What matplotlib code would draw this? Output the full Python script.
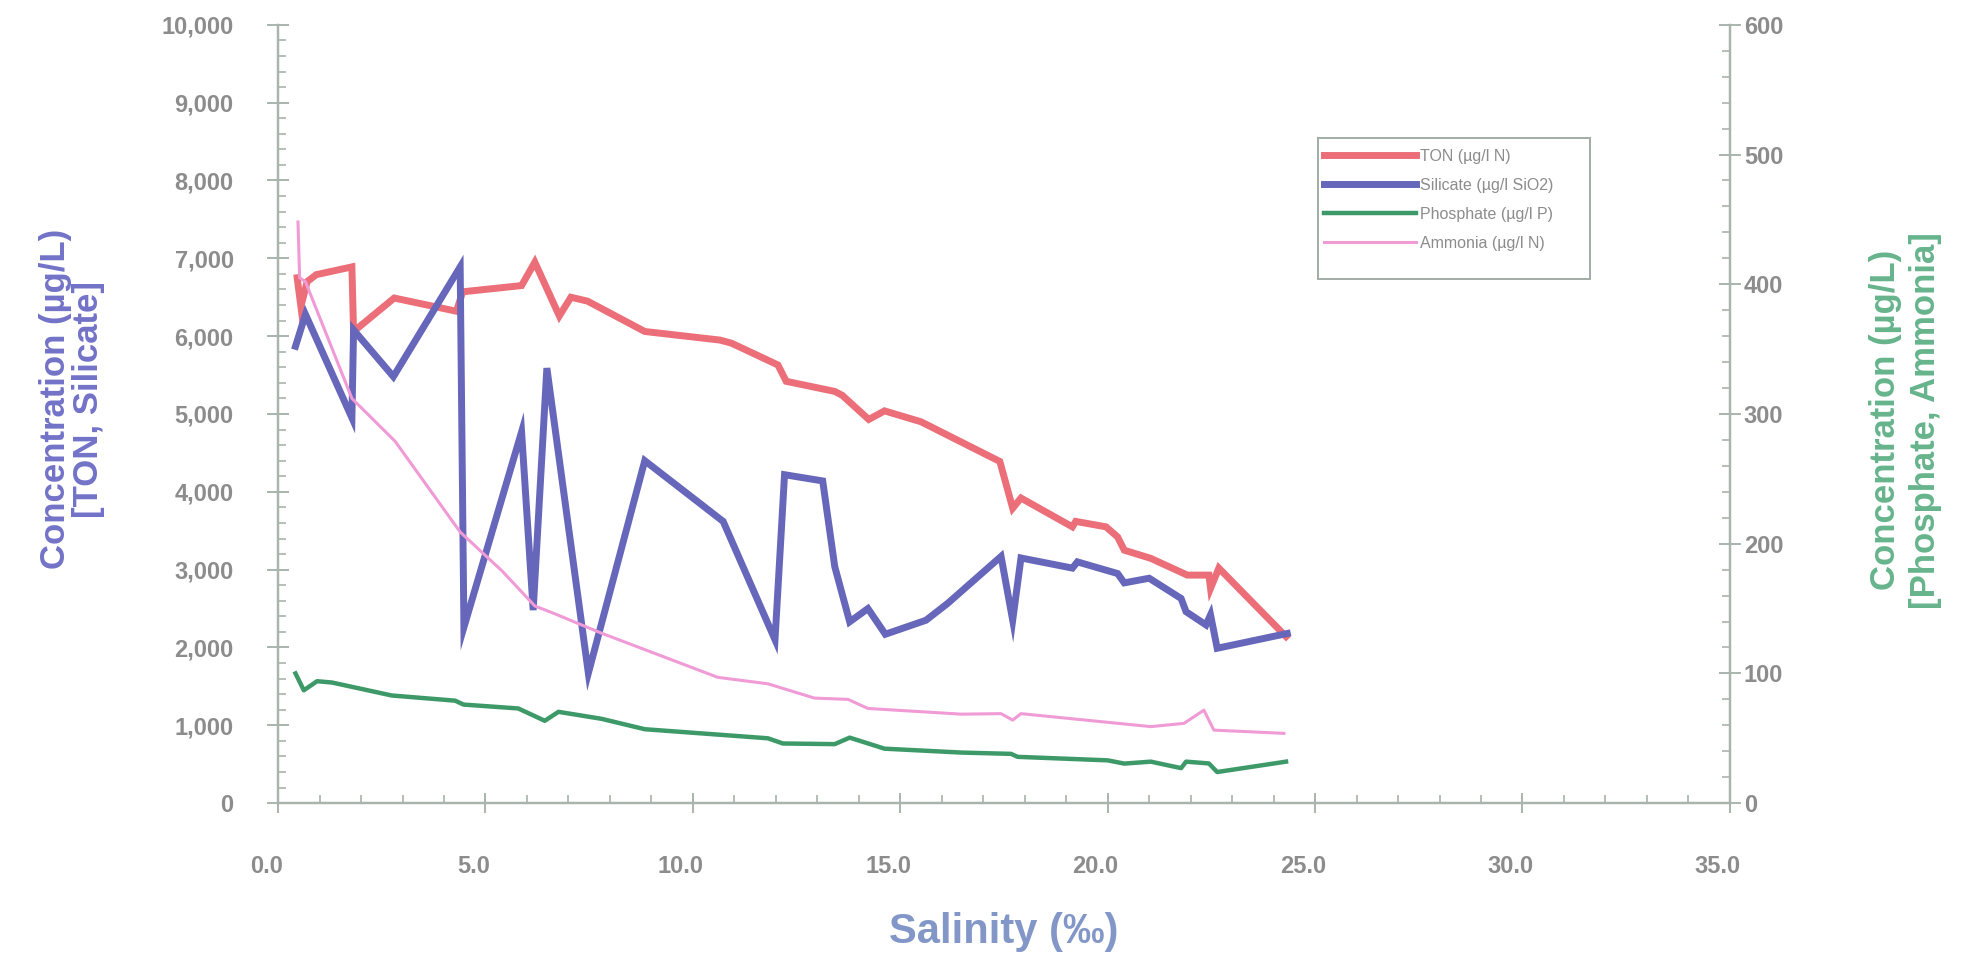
import matplotlib
matplotlib.use("Agg")
import matplotlib.pyplot as plt
from matplotlib.ticker import MultipleLocator, FuncFormatter
from matplotlib.lines import Line2D
from matplotlib.patches import Rectangle
from matplotlib.transforms import ScaledTranslation

# ---------------- data ----------------
ton_sal = [0.46, 0.55, 0.70, 0.92, 1.78, 1.82, 2.80, 4.30, 4.45, 5.87, 6.19, 6.78,
           7.06, 7.46, 8.84, 10.65, 10.93, 12.05, 12.25, 13.42, 13.60, 14.24, 14.62,
           15.50, 17.40, 17.71, 17.91, 19.15, 19.23, 19.96, 20.24, 20.40, 21.04,
           21.92, 22.44, 22.48, 22.68, 24.30]
ton_val = [6750, 6380, 6700, 6790, 6890, 6060, 6490, 6320, 6570, 6650, 6950, 6260,
           6500, 6450, 6060, 5950, 5910, 5630, 5420, 5290, 5240, 4930, 5040,
           4900, 4390, 3790, 3920, 3550, 3620, 3550, 3420, 3250, 3145,
           2930, 2930, 2760, 3020, 2140]

sil_sal = [0.42, 0.66, 1.78, 1.82, 2.78, 4.39, 4.48, 5.87, 6.15, 6.48, 7.48, 8.84,
           10.73, 11.98, 12.21, 13.13, 13.42, 13.78, 14.22, 14.64, 15.62, 16.15,
           17.43, 17.71, 17.91, 19.15, 19.27, 20.24, 20.40, 21.00, 21.77, 21.89,
           22.37, 22.48, 22.64, 24.33]
sil_val = [5870, 6280, 4950, 6080, 5480, 6890, 2260, 4770, 2480, 5590, 1670, 4400,
           3620, 2100, 4220, 4140, 3040, 2330, 2500, 2170, 2350, 2570,
           3170, 2350, 3150, 3020, 3100, 2950, 2830, 2890, 2630, 2460,
           2290, 2420, 1990, 2180]

pho_sal = [0.42, 0.62, 0.94, 1.30, 2.74, 4.27, 4.47, 5.79, 6.43, 6.76, 7.80, 8.84,
           11.81, 12.17, 13.42, 13.78, 14.62, 16.47, 17.67, 17.83, 20.00, 20.40,
           21.04, 21.77, 21.89, 22.44, 22.64, 24.30]
pho_val = [100, 87, 94, 93, 83, 79, 76, 73, 63.5, 70.4, 65, 57,
           50, 46, 45.5, 50.5, 42, 39, 38, 35.7, 33, 30.5,
           32, 27, 32, 30.6, 24, 32]

amm_sal = [0.48, 0.52, 0.66, 1.78, 2.82, 4.39, 5.40, 6.19, 6.67, 7.80, 10.60,
           11.81, 12.93, 13.74, 14.22, 16.47, 17.43, 17.71, 17.91, 21.04, 21.84,
           22.32, 22.56, 24.25]
amm_val = [448, 405, 402, 312, 279, 209, 179, 152, 146, 131, 97,
           92, 81, 80, 73, 68.6, 69, 64, 69, 59, 61.5,
           71.7, 56.3, 53.8]

labels = ["TON (\u00b5g/l N)", "Silicate (\u00b5g/l SiO2)",
          "Phosphate (\u00b5g/l P)", "Ammonia (\u00b5g/l N)"]
x_ticks = [0, 5, 10, 15, 20, 25, 30, 35]

# ---------------- style ----------------
plt.rcParams['font.family'] = ['Liberation Sans', 'DejaVu Sans']
c_ton = "#eb6e78"
c_sil = "#6666bb"
c_pho = "#3d9a68"
c_amm = "#f09ad6"
c_axis = "#a8b4ac"
c_tick = "#8c8c8c"

fig = plt.figure(figsize=(19.68, 9.55), dpi=100)
ax = fig.add_axes([0.1413, 0.159, 0.7377, 0.815])
ax2 = ax.twinx()

ax.plot(ton_sal, ton_val, color=c_ton, lw=5, solid_joinstyle='miter', zorder=3)
ax.plot(sil_sal, sil_val, color=c_sil, lw=5, solid_joinstyle='miter', zorder=4)
ax2.plot(pho_sal, pho_val, color=c_pho, lw=3.2, zorder=3)
ax2.plot(amm_sal, amm_val, color=c_amm, lw=2.2, zorder=4)

ax.set_xlim(0, 35)
ax.set_ylim(0, 10000)
ax2.set_ylim(0, 600)

for a in (ax, ax2):
    a.spines['top'].set_visible(False)
    for s in ('left', 'right', 'bottom'):
        a.spines[s].set_color(c_axis)
        a.spines[s].set_linewidth(1.6)
    a.patch.set_visible(False)

ax.set_xticks(x_ticks)
ax.xaxis.set_minor_locator(MultipleLocator(1))
ax.xaxis.set_major_formatter(FuncFormatter(lambda v, p: f"{v:.1f}"))
ax.yaxis.set_major_locator(MultipleLocator(1000))
ax.yaxis.set_minor_locator(MultipleLocator(200))
ax.yaxis.set_major_formatter(FuncFormatter(lambda v, p: f"{int(v):,}"))
ax2.yaxis.set_major_locator(MultipleLocator(100))
ax2.yaxis.set_minor_locator(MultipleLocator(20))

tick_font = dict(labelsize=17, labelcolor=c_tick, color=c_axis, width=1.4)
ax.tick_params(axis='x', which='major', direction='inout', length=14, pad=30, **tick_font)
ax.tick_params(axis='x', which='minor', direction='in', length=6, color=c_axis, width=1.2)
ax.tick_params(axis='y', which='major', direction='inout', length=16, pad=24, **tick_font)
ax.tick_params(axis='y', which='minor', direction='in', length=6, color=c_axis, width=1.2)
ax2.tick_params(axis='y', which='major', direction='inout', length=16, pad=2, **tick_font)
ax2.tick_params(axis='y', which='minor', direction='in', length=6, color=c_axis, width=1.2)
shift = ScaledTranslation(-12 / 100, 0, fig.dpi_scale_trans)
for lab in ax.get_xticklabels():
    lab.set_transform(lab.get_transform() + shift)
for lab in ax.get_xticklabels() + ax.get_yticklabels() + ax2.get_yticklabels():
    lab.set_fontweight('bold')

ax.set_xlabel("Salinity (\u2030)", fontsize=30, fontweight='bold', color="#8296c8")
ax.xaxis.set_label_coords(0.5, -0.140)
ax.set_ylabel("Concentration (\u00b5g/L)\n[TON, Silicate]", fontsize=25, fontweight='bold',
              color="#7272c8", linespacing=1.0)
ax.yaxis.set_label_coords(-0.119, 0.519)
ax2.set_ylabel("Concentration (\u00b5g/L)\n[Phosphate, Ammonia]", fontsize=25, fontweight='bold',
               color="#66b48c", linespacing=1.28)
ax2.yaxis.set_label_coords(1.0957, 0.492)

handles = [Line2D([], [], color=c_ton, lw=5),
           Line2D([], [], color=c_sil, lw=5),
           Line2D([], [], color=c_pho, lw=3.2),
           Line2D([], [], color=c_amm, lw=2.2)]
leg = ax2.legend(handles, labels, loc='upper left', bbox_to_anchor=(0.7126, 0.855),
                 borderaxespad=0, fontsize=11.5, handlelength=5.8, handletextpad=0.2,
                 labelspacing=0.88, frameon=False, borderpad=0.7)
for t in leg.get_texts():
    t.set_color("#8c8c8c")
ax2.add_patch(Rectangle((0.716, 0.6735), 0.188, 0.1815, transform=ax2.transAxes,
                        fill=False, edgecolor="#a0aca4", linewidth=1.4, clip_on=False,
                        zorder=5))

fig.savefig("out.png", dpi=100)
